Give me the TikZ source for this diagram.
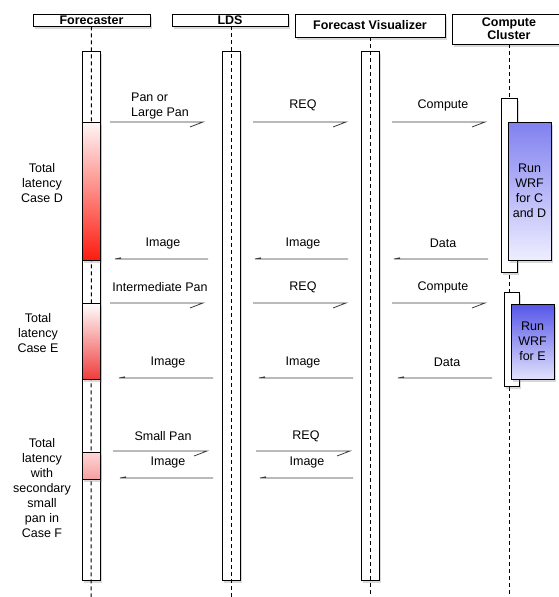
\documentclass[tikz,border=0pt]{standalone}
\usepackage{fontspec}
\setmainfont{Liberation Sans}
\usetikzlibrary{shadows}
\definecolor{redbot}{RGB}{252,28,16}
\definecolor{redtop}{RGB}{255,246,246}
\definecolor{redEbot}{RGB}{240,60,60}
\definecolor{redFtop}{RGB}{255,214,214}
\definecolor{redFbot}{RGB}{245,160,160}
\definecolor{blueDtop}{RGB}{128,128,240}
\definecolor{blueDbot}{RGB}{238,238,255}
\definecolor{blueEtop}{RGB}{85,85,232}
\definecolor{blueEbot}{RGB}{225,225,252}
\definecolor{msgcol}{RGB}{60,60,60}
\begin{document}
\begin{tikzpicture}[x=1pt,y=-1pt,
  shd/.style={drop shadow={opacity=0.3, shadow xshift=1.5pt, shadow yshift=-3pt}},
  hdr/.style={draw=black, line width=0.9pt, fill=white, inner sep=0pt, shd,
    font=\bfseries\fontsize{12.5}{14}\selectfont, align=center},
  bar/.style={draw=black, line width=0.9pt, fill=white, inner sep=0pt, shd},
  shadebox/.style={draw=black, line width=0.9pt, inner sep=0pt, shd,
    font=\fontsize{12.5}{15}\selectfont, align=center},
  life/.style={draw=black, line width=1pt, dash pattern=on 4pt off 3pt},
  msg/.style={draw=msgcol, line width=0.8pt},
  lbl/.style={inner sep=0pt, font=\fontsize{12.5}{15}\selectfont, align=center}]
\useasboundingbox (0,0) rectangle (558,597);
\fill[white] (0,0) rectangle (558,597);

% headers
\node[hdr, minimum width=117pt, minimum height=12pt] (hF) at (91.5,20) {Forecaster};
\node[hdr, minimum width=116pt, minimum height=12pt] (hL) at (230,20) {LDS};
\node[hdr, minimum width=150pt, minimum height=23pt] (hV) at (370,25.5) {Forecast Visualizer};
\node[hdr, minimum width=114pt, minimum height=30pt] (hC) at (509,29) {Compute\\[-1pt]Cluster};

% lifeline ends
\coordinate (eF) at (91,597);
\coordinate (eL) at (231,597);
\coordinate (eV) at (370,597);
\coordinate (eC) at (509,597);

% compute cluster lifeline (below its bars)
\draw[life] (hC.south) -- (eC);
\node[bar, minimum width=16pt, minimum height=174pt] (cb1) at (509,185) {};
\node[shadebox, top color=blueDtop, bottom color=blueDbot, minimum width=43pt, minimum height=138pt] (wD) at (529.5,191) {Run\\WRF\\for C\\and D};
\node[bar, minimum width=15pt, minimum height=94pt] (cb2) at (511.5,339) {};
\node[shadebox, top color=blueEtop, bottom color=blueEbot, minimum width=43pt, minimum height=75pt] (wE) at (532.5,341.5) {Run\\WRF\\for E};

% main activation bars
\node[bar, minimum width=18pt, minimum height=529pt] (bF) at (91,315.5) {};
\node[bar, minimum width=18pt, minimum height=529pt] (bL) at (231,315.5) {};
\node[bar, minimum width=18pt, minimum height=529pt] (bV) at (370,315.5) {};
\draw[life] (hF.south) -- (eF);
\draw[life] (hL.south -| eL) -- (eL);
\draw[life] (hV.south) -- (eV);

% latency boxes
\node[shadebox, top color=redtop, bottom color=redbot, minimum width=18pt, minimum height=138pt] (lD) at (91,191) {};
\node[shadebox, top color=white, bottom color=redEbot, minimum width=18pt, minimum height=76pt] (lE) at (91,341) {};
\node[shadebox, top color=redFtop, bottom color=redFbot, minimum width=18pt, minimum height=27pt] (lF) at (91,465.5) {};

% left labels
\node[lbl] (tD) at (42,183) {Total\\latency\\Case D};
\node[lbl] (tE) at (38,333) {Total\\latency\\Case E};
\node[lbl] (tF) at (42,488) {Total\\latency\\with\\secondary\\small\\pan in\\Case F};

% message end points
\coordinate (a1s) at (110,122); \coordinate (a1e) at (203,122);
\coordinate (a2s) at (253,122); \coordinate (a2e) at (346,122);
\coordinate (a3s) at (392,122); \coordinate (a3e) at (485,122);
\coordinate (b1s) at (208,259); \coordinate (b1e) at (115,259);
\coordinate (b2s) at (348,259); \coordinate (b2e) at (255,259);
\coordinate (b3s) at (488,259); \coordinate (b3e) at (394,259);
\coordinate (c1s) at (110,303); \coordinate (c1e) at (203,303);
\coordinate (c2s) at (253,303); \coordinate (c2e) at (346,303);
\coordinate (c3s) at (392,303); \coordinate (c3e) at (485,303);
\coordinate (d1s) at (213,378); \coordinate (d1e) at (119,378);
\coordinate (d2s) at (353,378); \coordinate (d2e) at (259,378);
\coordinate (d3s) at (492,378); \coordinate (d3e) at (398,378);
\coordinate (e1s) at (113,451); \coordinate (e1e) at (207,451);
\coordinate (e2s) at (256,451); \coordinate (e2e) at (350,451);
\coordinate (f1s) at (213,478); \coordinate (f1e) at (120,478);
\coordinate (f2s) at (353,478); \coordinate (f2e) at (260,478);

% requests (half arrow heads)
\foreach \m in {a1,a2,a3,c1,c2,c3,e1,e2}
  \draw[msg] (\m s) -- (\m e) -- ++(-13,5);
% replies
\foreach \m in {b1,b2,b3,d1,d2,d3,f1,f2}
  \draw[msg] (\m s) -- (\m e) -- ++(6,-1.2);

% message labels
\node[lbl, anchor=west, align=left] (la1) at (131,106) {Pan or\\Large Pan};
\node[lbl] (la2) at (303,105) {REQ};
\node[lbl] (la3) at (443,105) {Compute};
\node[lbl] (lb1) at (163,243) {Image};
\node[lbl] (lb2) at (303,243) {Image};
\node[lbl] (lb3) at (443,243) {Data};
\node[lbl] (lc1) at (160,287) {Intermediate Pan};
\node[lbl] (lc2) at (303,287) {REQ};
\node[lbl] (lc3) at (443,287) {Compute};
\node[lbl] (ld1) at (168,362) {Image};
\node[lbl] (ld2) at (303,362) {Image};
\node[lbl] (ld3) at (447,362) {Data};
\node[lbl] (le1) at (163,436) {Small Pan};
\node[lbl] (le2) at (306,436) {REQ};
\node[lbl] (lf1) at (168,462) {Image};
\node[lbl] (lf2) at (307,462) {Image};
\end{tikzpicture}
\end{document}
